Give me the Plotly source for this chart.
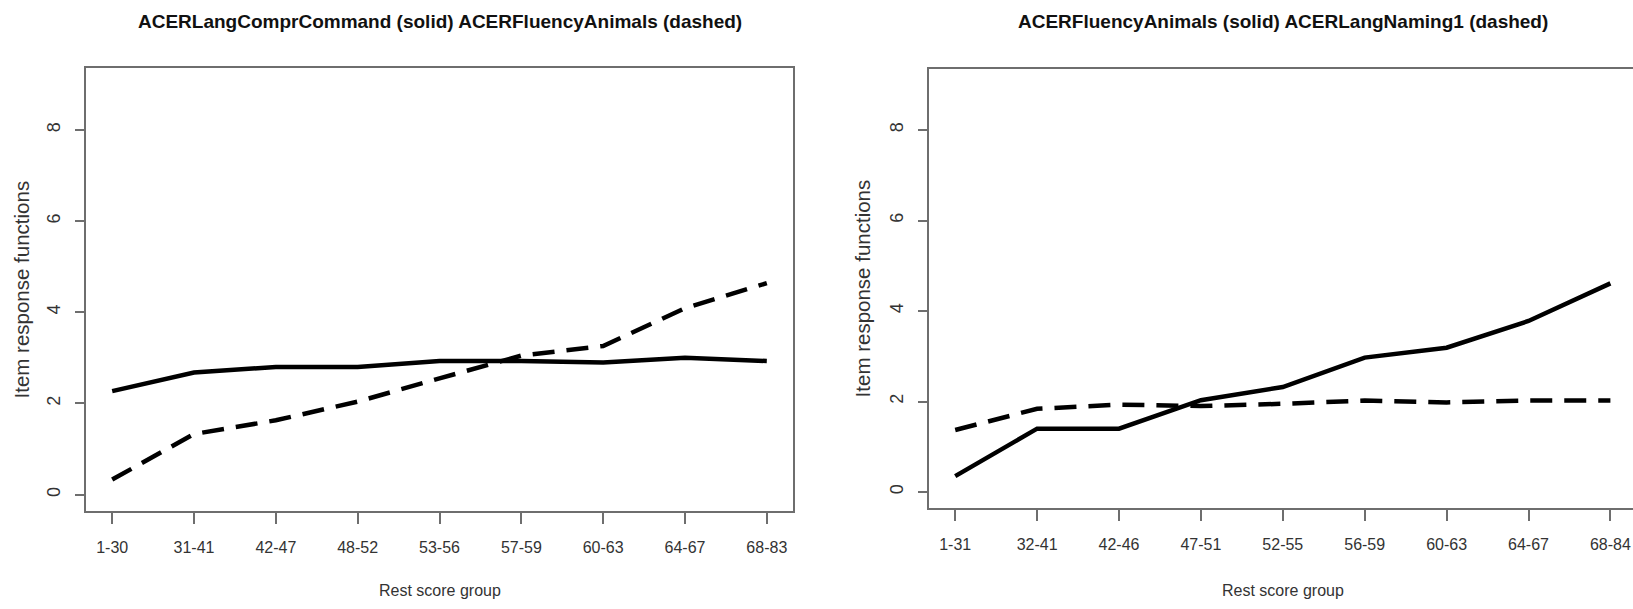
import plotly.graph_objects as go

# ---- data ----
groups_left = ["1-30", "31-41", "42-47", "48-52", "53-56", "57-59", "60-63", "64-67", "68-83"]
left_solid = [2.27, 2.68, 2.80, 2.80, 2.93, 2.93, 2.90, 3.00, 2.93]   # ACERLangComprCommand
left_dashed = [0.33, 1.33, 1.63, 2.04, 2.55, 3.05, 3.26, 4.09, 4.64]  # ACERFluencyAnimals

groups_right = ["1-31", "32-41", "42-46", "47-51", "52-55", "56-59", "60-63", "64-67", "68-84"]
right_solid = [0.35, 1.40, 1.40, 2.03, 2.32, 2.97, 3.19, 3.78, 4.61]  # ACERFluencyAnimals
right_dashed = [1.37, 1.84, 1.93, 1.90, 1.95, 2.02, 1.98, 2.02, 2.02]  # ACERLangNaming1

title_left = "ACERLangComprCommand (solid) ACERFluencyAnimals (dashed)"
title_right = "ACERFluencyAnimals (solid) ACERLangNaming1 (dashed)"
x_title = "Rest score group"
y_title = "Item response functions"
y_ticks = [0, 2, 4, 6, 8]

W, H = 1633, 609
FONT = "Liberation Sans, Arial, sans-serif"
AXC = "#6e6e6e"
TXC = "#333333"

def px_x(p):
    return p / W

def px_y(p):
    return 1 - p / H

fig = go.Figure()
xs = list(range(1, 10))
dash = "22px,12px"

fig.add_trace(go.Scatter(x=xs, y=left_solid, mode="lines", line=dict(color="black", width=4.5),
                         xaxis="x", yaxis="y", showlegend=False))
fig.add_trace(go.Scatter(x=xs, y=left_dashed, mode="lines", line=dict(color="black", width=4.5, dash=dash),
                         xaxis="x", yaxis="y", showlegend=False))
fig.add_trace(go.Scatter(x=xs, y=right_solid, mode="lines", line=dict(color="black", width=4.5),
                         xaxis="x2", yaxis="y2", showlegend=False))
fig.add_trace(go.Scatter(x=xs, y=right_dashed, mode="lines", line=dict(color="black", width=4.5, dash=dash),
                         xaxis="x2", yaxis="y2", showlegend=False))

def xaxis(domain, rng, labels, anchor):
    return dict(domain=domain, range=rng, anchor=anchor, tickmode="array", tickvals=xs, ticktext=labels,
                ticks="outside", ticklen=11, tickwidth=1.5, tickcolor=AXC,
                showline=True, linecolor=AXC, linewidth=1.6, mirror=True,
                showgrid=False, zeroline=False, ticklabelstandoff=10,
                tickfont=dict(family=FONT, size=16, color=TXC), fixedrange=True)

def yaxis(domain, anchor, mirror):
    return dict(domain=domain, range=[-0.36, 9.36], anchor=anchor, tickmode="array", tickvals=y_ticks,
                ticktext=[str(v) for v in y_ticks], tickangle=-90,
                ticks="outside", ticklen=9, tickwidth=1.5, tickcolor=AXC,
                showline=True, linecolor=AXC, linewidth=1.6, mirror=mirror,
                showgrid=False, zeroline=False, ticklabelstandoff=8,
                tickfont=dict(family=FONT, size=18, color=TXC), fixedrange=True)

fig.update_layout(
    width=W, height=H,
    margin=dict(l=0, r=0, t=0, b=0),
    paper_bgcolor="white", plot_bgcolor="white",
    xaxis=xaxis([px_x(86), px_x(793)], [0.68, 9.32], groups_left, "y"),
    yaxis=yaxis([px_y(511), px_y(68)], "x", True),
    xaxis2=xaxis([px_x(929), 1.0], [0.68, 9.276], groups_right, "y2"),
    yaxis2=yaxis([px_y(508.3), px_y(68.5)], "x2", False),
)

ann = []
for cx, t in [((86 + 793) / 2, title_left), ((929 + 1637.5) / 2, title_right)]:
    ann.append(dict(text="<b>" + t + "</b>", x=px_x(cx), y=px_y(22), xref="paper", yref="paper",
                    showarrow=False, xanchor="center", yanchor="middle",
                    font=dict(family=FONT, size=19, color="#111111")))
for cx in [(86 + 793) / 2, (929 + 1637.5) / 2]:
    ann.append(dict(text=x_title, x=px_x(cx), y=px_y(590), xref="paper", yref="paper",
                    showarrow=False, xanchor="center", yanchor="middle",
                    font=dict(family=FONT, size=16, color=TXC)))
for cx, cy in [(21, 289.5), (862, 288.4)]:
    ann.append(dict(text=y_title, x=px_x(cx), y=px_y(cy), xref="paper", yref="paper",
                    showarrow=False, xanchor="center", yanchor="middle", textangle=-90,
                    font=dict(family=FONT, size=20.5, color=TXC)))
fig.update_layout(annotations=ann)

fig.write_html("out.html")
